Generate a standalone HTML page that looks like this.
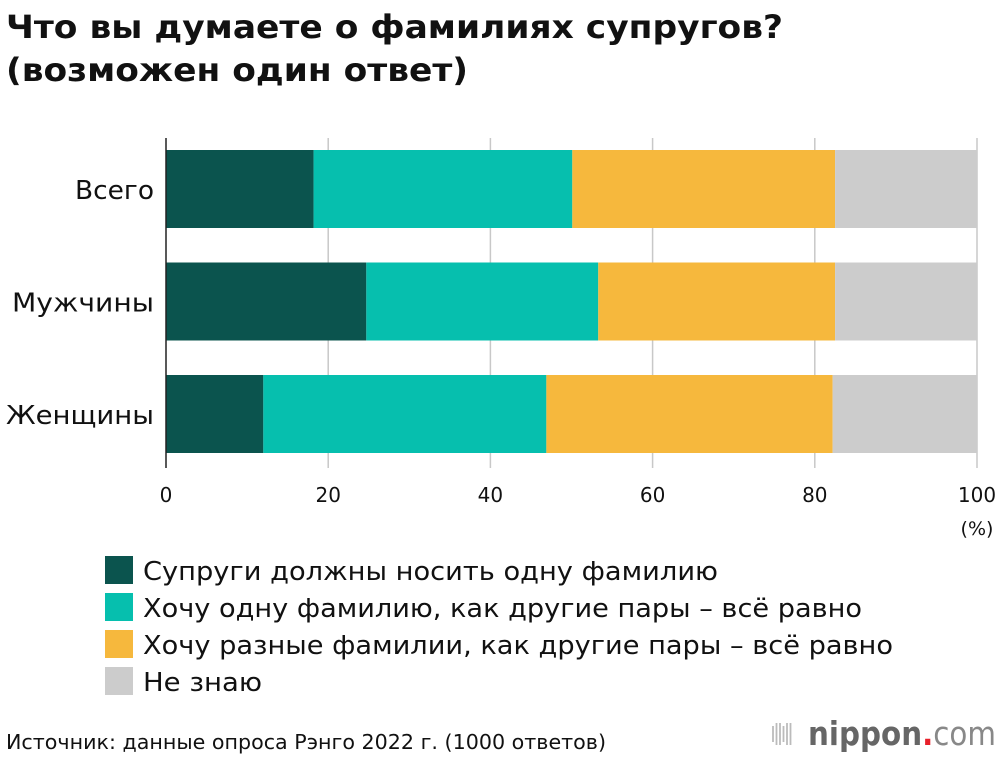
<!DOCTYPE html>
<html><head><meta charset="utf-8"><style>
body{margin:0;width:1000px;height:758px;background:#fff;font-family:"DejaVu Sans","Liberation Sans",sans-serif;overflow:hidden;position:relative}
text{font-family:"DejaVu Sans","Liberation Sans",sans-serif}
</style></head><body>
<svg id="c" width="1000" height="758" style="position:absolute;left:0;top:0">
<text x="6" y="38" font-size="32" font-weight="bold" fill="#111" textLength="777" lengthAdjust="spacingAndGlyphs">Что вы думаете о фамилиях супругов?</text>
<text x="6" y="81" font-size="32" font-weight="bold" fill="#111" textLength="462" lengthAdjust="spacingAndGlyphs">(возможен один ответ)</text>
</svg>
<script>
const categories=["Всего","Мужчины","Женщины"];
const seriesNames=["Супруги должны носить одну фамилию","Хочу одну фамилию, как другие пары – всё равно","Хочу разные фамилии, как другие пары – всё равно","Не знаю"];
const s1=[18.2,24.7,12.0];
const s2=[31.9,28.6,34.9];
const s3=[32.4,29.2,35.3];
const s4=[17.5,17.5,17.8];
const ticks=[0,20,40,60,80,100];
const colors=["#0b544e","#06bfae","#f6b83d","#cccccc"];
const catLen=[79,142,148];
const legLen=[575,719,750,119];
const svg=document.getElementById('c');const NS="http://www.w3.org/2000/svg";
const x=v=>166+v*8.11;const y=i=>150+i*112.5;
function mk(t,a){const e=document.createElementNS(NS,t);for(const k in a)e.setAttribute(k,a[k]);svg.appendChild(e);return e;}
ticks.forEach(t=>{if(t>0){const l=mk('line',{x1:x(t),x2:x(t),y1:138,y2:468,stroke:'#c8c8c8','stroke-width':1.5});
}
const tx=mk('text',{x:x(t),y:502,'font-size':20,'text-anchor':'middle',fill:'#111'});tx.textContent=t;
});
const pc=mk('text',{x:977,y:535,'font-size':19,'text-anchor':'middle',fill:'#111'});pc.textContent='(%)';

const series=[s1,s2,s3,s4];
categories.forEach((c,i)=>{let acc=0;series.forEach((s,j)=>{const r=mk('rect',{x:x(acc),y:y(i),width:x(acc+s[i])-x(acc),height:78,fill:colors[j]});
acc+=s[i];});
const lb=mk('text',{x:154-catLen[i],y:y(i)+49,'font-size':26,fill:'#111',textLength:catLen[i],lengthAdjust:'spacingAndGlyphs'});lb.textContent=c;
});
const ax=mk('line',{x1:166,x2:166,y1:138,y2:468,stroke:'#222','stroke-width':1.5});

seriesNames.forEach((n,j)=>{const yy=556+j*37;const r=mk('rect',{x:105,y:yy,width:28,height:28,fill:colors[j]});

const t=mk('text',{x:143,y:yy+24,'font-size':26,fill:'#111',textLength:legLen[j],lengthAdjust:'spacingAndGlyphs'});t.textContent=n;
});
const src=mk('text',{x:6,y:749,'font-size':20,fill:'#111',textLength:600,lengthAdjust:'spacingAndGlyphs'});src.textContent='Источник: данные опроса Рэнго 2022 г. (1000 ответов)';

for(let k=0;k<6;k++){const l=mk('line',{x1:773+k*3.5,x2:773+k*3.5,y1:727-(k%3==1||k%3==2?4:1),y2:741+(k%3==1||k%3==2?4:1),stroke:'#bbb','stroke-width':1.8});
}
const lg=mk('text',{x:808,y:745,'font-size':33,fill:'#666',textLength:188,lengthAdjust:'spacingAndGlyphs'});

lg.innerHTML='<tspan font-weight="bold">nippon</tspan><tspan fill="#e8202a" font-weight="bold">.</tspan><tspan fill="#888">com</tspan>';
</script>
</body></html>
